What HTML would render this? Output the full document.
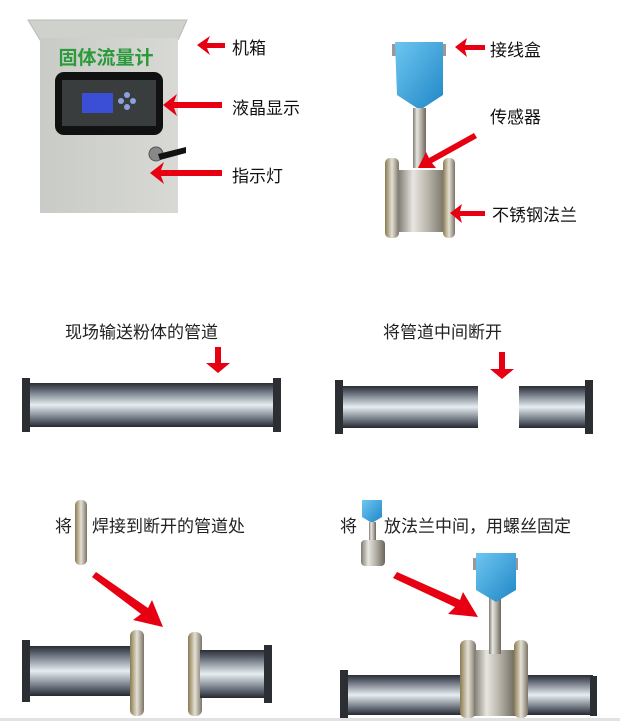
<!DOCTYPE html>
<html><head><meta charset="utf-8"><style>
html,body{margin:0;padding:0;background:#fff}
svg{display:block}
text{font-family:"Liberation Sans","Noto Sans CJK SC",sans-serif}
</style></head><body>
<svg width="620" height="721" viewBox="0 0 620 721" xmlns="http://www.w3.org/2000/svg">
<defs>
<linearGradient id="pipe" x1="0" y1="0" x2="0" y2="1">
<stop offset="0" stop-color="#2a2d33"/><stop offset="0.15" stop-color="#5d6470"/><stop offset="0.5" stop-color="#e6eef2"/><stop offset="0.85" stop-color="#5d6470"/><stop offset="1" stop-color="#25282d"/></linearGradient>
<linearGradient id="steel" x1="0" y1="0" x2="1" y2="0">
<stop offset="0" stop-color="#7d7a72"/><stop offset="0.3" stop-color="#e8e6e0"/><stop offset="0.6" stop-color="#b8b4aa"/><stop offset="1" stop-color="#6b665c"/></linearGradient>
<linearGradient id="flg" x1="0" y1="0" x2="1" y2="0">
<stop offset="0" stop-color="#8a7a50"/><stop offset="0.5" stop-color="#e4e0d4"/><stop offset="1" stop-color="#7a7466"/></linearGradient>
<linearGradient id="blue" x1="0" y1="0" x2="1" y2="1">
<stop offset="0" stop-color="#6ec6f0"/><stop offset="1" stop-color="#1f86c6"/></linearGradient>
<linearGradient id="cab" x1="0" y1="0" x2="1" y2="0">
<stop offset="0" stop-color="#c9cbc6"/><stop offset="1" stop-color="#d8d9d4"/></linearGradient>
</defs>

<!-- Cabinet -->
<polygon points="28,20 187,20 178,40 40,40" fill="#cfd1cc" stroke="#b8bab5"/>
<rect x="40" y="38" width="138" height="175" fill="url(#cab)"/>
<text x="106" y="64" font-size="19" font-weight="bold" fill="#2a9a3a" text-anchor="middle">固体流量计</text>
<rect x="55" y="72" width="108" height="63" rx="9" fill="#111"/>
<rect x="62" y="80" width="94" height="46" fill="#3a3d3e"/>
<rect x="82" y="93" width="31" height="20" fill="#3b4fd6"/>
<circle cx="127" cy="95" r="3" fill="#8aa0e0"/><circle cx="121" cy="101" r="3" fill="#8aa0e0"/><circle cx="133" cy="101" r="3" fill="#8aa0e0"/><circle cx="127" cy="107" r="3" fill="#8aa0e0"/>
<circle cx="156" cy="154" r="7" fill="#888" stroke="#555"/>
<path d="M158,154 L186,147 L186,153 L160,160Z" fill="#111"/>

<!-- cabinet arrows -->
<g fill="#e60012">
<polygon points="197,45 210,36 207,43 225,43 225,48 207,48 210,55"/>
<polygon points="163,105 177,94 174,102 222,102 222,108 174,108 177,116"/>
<polygon points="150,173 164,162 161,170 222,170 222,176 161,176 164,184"/>
</g>
<text x="232" y="54" font-size="17" fill="#111">机箱</text>
<text x="232" y="114" font-size="17" fill="#111">液晶显示</text>
<text x="232" y="182" font-size="17" fill="#111">指示灯</text>

<!-- Sensor -->
<rect x="392" y="44" width="6" height="12" fill="#999"/><rect x="440" y="44" width="6" height="12" fill="#999"/>
<path d="M395,42 L443,42 L443,95 L420,110 L397,95Z" fill="url(#blue)"/>
<rect x="413" y="108" width="13" height="60" fill="url(#steel)"/>
<rect x="385" y="158" width="14" height="80" rx="5" fill="url(#flg)"/>
<rect x="398" y="170" width="50" height="62" fill="url(#steel)"/>
<rect x="443" y="158" width="12" height="80" rx="5" fill="url(#flg)"/>
<g fill="#e60012">
<polygon points="455,47 467,38 465,45 485,45 485,50 465,50 467,57"/>
<polygon points="418,168 426,152 429,158 474,133 477,138 432,163 436,168"/>
<polygon points="450,213 462,204 460,211 485,211 485,216 460,216 462,223"/>
</g>
<text x="490" y="56" font-size="17" fill="#111">接线盒</text>
<text x="490" y="123" font-size="17" fill="#111">传感器</text>
<text x="492" y="221" font-size="17" fill="#111">不锈钢法兰</text>

<!-- Middle row -->
<text x="65" y="338" font-size="17" fill="#222">现场输送粉体的管道</text>
<polygon fill="#e60012" points="215,347 221,347 221,363 230,363 218,373 206,363 215,363"/>
<rect x="27" y="383" width="248" height="44" fill="url(#pipe)"/>
<rect x="22" y="378" width="8" height="54" fill="#2b2e33"/>
<rect x="273" y="378" width="8" height="54" fill="#2b2e33"/>

<text x="383" y="338" font-size="17" fill="#222">将管道中间断开</text>
<polygon fill="#e60012" points="499,352 505,352 505,369 514,369 502,379 490,369 499,369"/>
<rect x="340" y="386" width="138" height="42" fill="url(#pipe)"/>
<rect x="335" y="380" width="8" height="54" fill="#2b2e33"/>
<rect x="519" y="386" width="68" height="42" fill="url(#pipe)"/>
<rect x="585" y="380" width="8" height="54" fill="#2b2e33"/>

<!-- Bottom left -->
<rect x="75" y="500" width="12" height="65" rx="5" fill="url(#flg)"/>
<text x="55" y="532" font-size="17" fill="#222">将</text>
<text x="92" y="532" font-size="17" fill="#222">焊接到断开的管道处</text>
<polygon fill="#e60012" points="92,577 96,572 148,608 152,600 163,627 133,620 141,614"/>
<rect x="27" y="646" width="105" height="50" fill="url(#pipe)"/>
<rect x="22" y="640" width="8" height="62" fill="#2b2e33"/>
<rect x="130" y="630" width="14" height="86" rx="6" fill="url(#flg)"/>
<rect x="188" y="632" width="14" height="84" rx="6" fill="url(#flg)"/>
<rect x="200" y="650" width="66" height="48" fill="url(#pipe)"/>
<rect x="264" y="645" width="8" height="58" fill="#2b2e33"/>

<!-- Bottom right -->
<path d="M362,500 L382,500 L382,517 L372,523 L362,517Z" fill="url(#blue)"/>
<rect x="369" y="522" width="7" height="22" fill="url(#steel)"/>
<rect x="361" y="540" width="24" height="26" rx="4" fill="url(#steel)"/>
<text x="340" y="532" font-size="17" fill="#222">将</text>
<text x="384" y="532" font-size="17" fill="#222">放法兰中间，用螺丝固定</text>
<polygon fill="#e60012" points="393,578 397,572 460,600 463,592 478,617 448,614 455,607"/>
<rect x="345" y="675" width="248" height="40" fill="url(#pipe)"/>
<rect x="340" y="670" width="8" height="50" fill="#2b2e33"/>
<rect x="590" y="676" width="7" height="40" fill="#2b2e33"/>
<rect x="460" y="640" width="16" height="78" rx="6" fill="url(#flg)"/>
<rect x="474" y="650" width="42" height="66" fill="url(#steel)"/>
<rect x="514" y="640" width="14" height="78" rx="6" fill="url(#flg)"/>
<rect x="489" y="596" width="12" height="58" fill="url(#steel)"/>
<rect x="473" y="558" width="5" height="12" fill="#999"/><rect x="513" y="558" width="5" height="12" fill="#999"/>
<path d="M476,553 L516,553 L516,590 L496,602 L476,590Z" fill="url(#blue)"/>

<rect x="0" y="718" width="620" height="3" fill="#e2e2e2"/>
</svg>
</body></html>
